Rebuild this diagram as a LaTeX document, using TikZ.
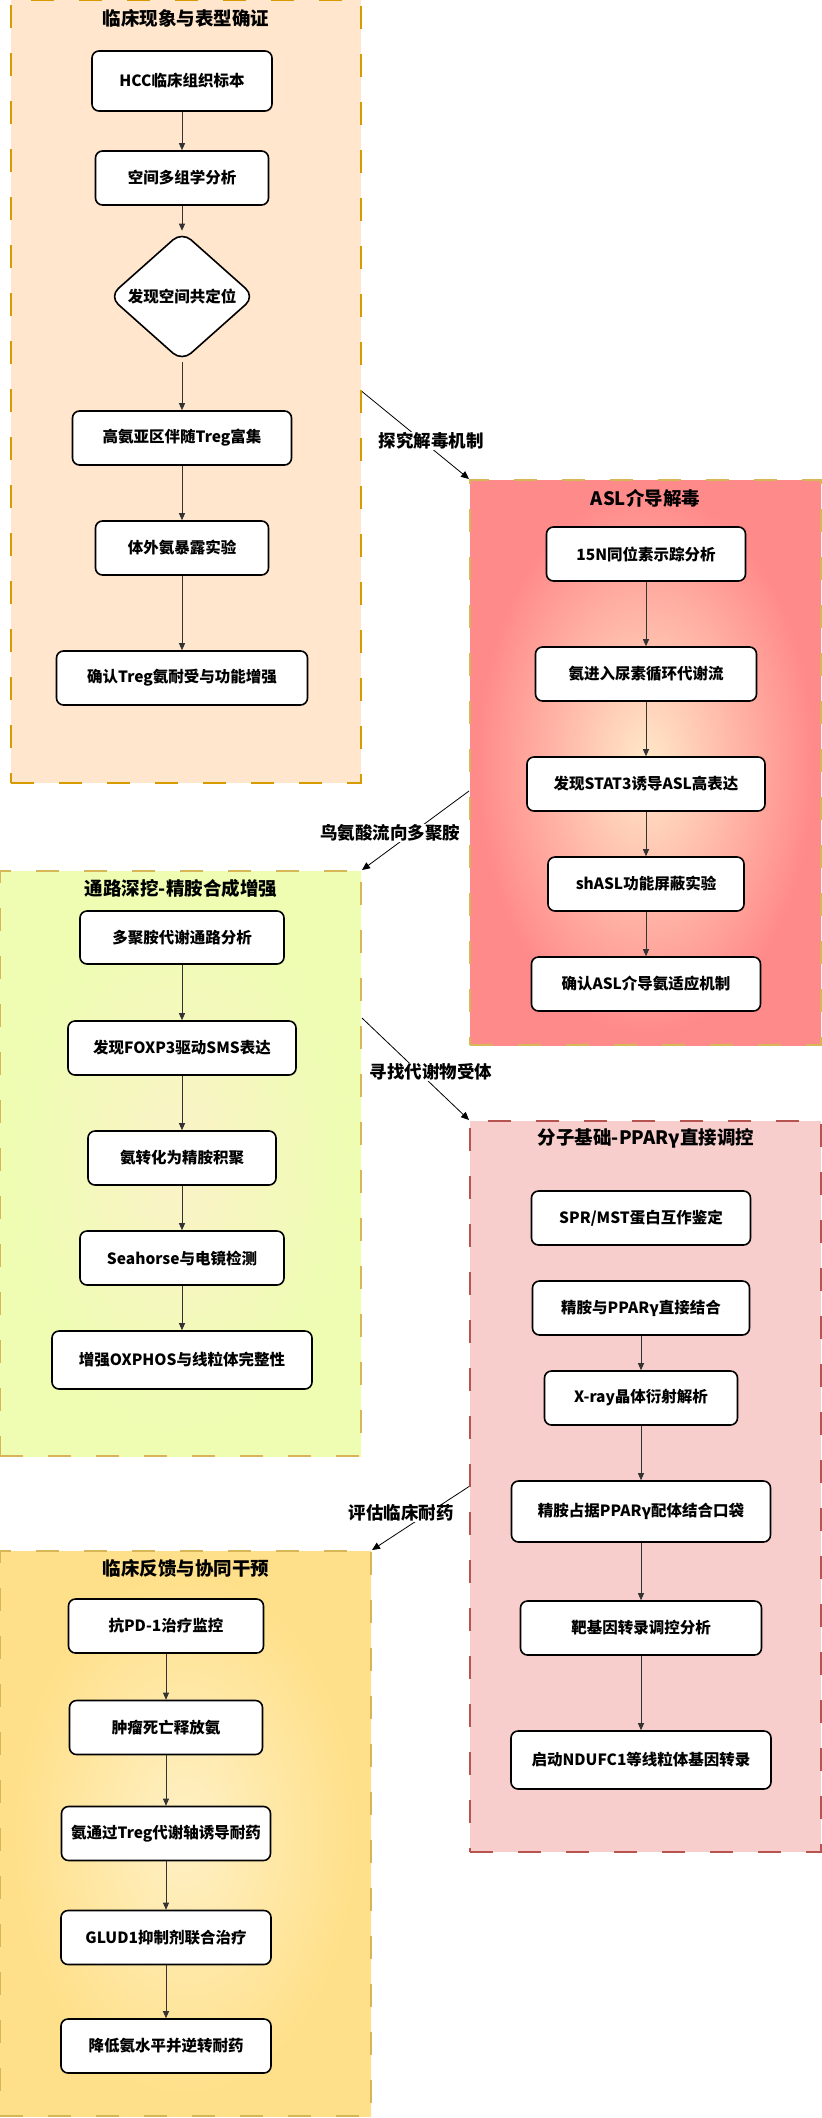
\documentclass[tikz,border=0pt]{standalone}
\usepackage{fontspec}
\setmainfont{Noto Sans CJK SC}
\usetikzlibrary{arrows.meta,shapes.geometric}
\definecolor{peachfill}{HTML}{FFE6CC}
\definecolor{peachline}{HTML}{D79B00}
\definecolor{goldline}{HTML}{D6B656}
\definecolor{rosefill}{HTML}{F8CECC}
\definecolor{roseline}{HTML}{B85450}
\definecolor{aslin}{HTML}{FFE8C8}
\definecolor{aslout}{HTML}{FF8A8A}
\definecolor{limein}{HTML}{FBF2C8}
\definecolor{limeout}{HTML}{EEFDB2}
\definecolor{goldin}{HTML}{FFF1C6}
\definecolor{goldout}{HTML}{FFE08A}
\pgfdeclareradialshading{aslglow}{\pgfpoint{0bp}{0bp}}{color(0bp)=(aslin);color(24bp)=(aslout);color(50bp)=(aslout)}
\pgfdeclareradialshading{limeglow}{\pgfpoint{0bp}{0bp}}{color(0bp)=(limein);color(23bp)=(limeout);color(50bp)=(limeout)}
\pgfdeclareradialshading{goldglow}{\pgfpoint{0bp}{0bp}}{color(0bp)=(goldin);color(23bp)=(goldout);color(50bp)=(goldout)}

\begin{document}
\begin{tikzpicture}[x=1pt,y=-1pt,
  every node/.style={text=black},
  frame/.style={rectangle,inner sep=0pt,line width=2pt,dash pattern=on 23pt off 25pt},
  head/.style={font=\fontsize{18.5}{22}\selectfont\bfseries},
  box/.style={draw,fill=white,rounded corners=7pt,line width=1.6pt,inner sep=2pt,
    minimum height=54pt,font=\fontsize{15.5}{18}\selectfont\bfseries},
  elabel/.style={fill=white,inner sep=1pt,font=\fontsize{17.5}{21}\selectfont\bfseries},
  flow/.style={draw=black!80,line width=0.9pt,-{Triangle[length=7pt,width=6pt]}},
  link/.style={draw=black,line width=0.8pt,-{Triangle[length=8pt,width=7pt]}}]
\useasboundingbox (0,0) rectangle (822,2118);

\node[frame,draw=peachline,fill=peachfill,minimum width=350,minimum height=783] (clin) at (186,391.5) {};
\node[frame,draw=goldline,shading=aslglow,minimum width=351,minimum height=565] (asl) at (645.5,762.5) {};
\node[frame,draw=goldline,shading=limeglow,minimum width=361,minimum height=585] (path) at (180.5,1163.5) {};
\node[frame,draw=roseline,fill=rosefill,minimum width=351,minimum height=731] (ppar) at (645.5,1486.5) {};
\node[frame,draw=goldline,shading=goldglow,minimum width=371,minimum height=565] (feed) at (185.5,1833.5) {};

\node[head] (clin title) at (186,18) {临床现象与表型确证};
\node[head] (asl title) at (645.5,498) {ASL介导解毒};
\node[head] (path title) at (181,888) {通路深挖-精胺合成增强};
\node[head] (ppar title) at (646,1138) {分子基础-PPARγ直接调控};
\node[head] (feed title) at (186,1568) {临床反馈与协同干预};

\foreach \n/\y/\w/\h/\t in {1/81/180/60/HCC临床组织标本, 2/178/173/54/空间多组学分析,
  4/438/219/54/高氨亚区伴随Treg富集, 5/548/173/54/体外氨暴露实验, 6/678/251/54/确认Treg氨耐受与功能增强}
  \node[box,minimum width=\w,minimum height=\h] (C\n) at (182,\y) {\t};
\node[box,diamond,rounded corners=12pt,inner sep=0pt,minimum width=146,minimum height=130] (C3) at (182,296.5) {发现空间共定位};

\foreach \n/\y/\w/\t in {1/554/199/15N同位素示踪分析, 2/674/221/氨进入尿素循环代谢流,
  3/784/238/发现STAT3诱导ASL高表达, 4/884/196/shASL功能屏蔽实验, 5/984/229/确认ASL介导氨适应机制}
  \node[box,minimum width=\w] (A\n) at (646,\y) {\t};

\foreach \n/\y/\w/\h/\t in {1/937.5/204/53/多聚胺代谢通路分析, 2/1048/228/54/发现FOXP3驱动SMS表达,
  3/1158/188/54/氨转化为精胺积聚, 4/1258/204/54/Seahorse与电镜检测, 5/1360/260/58/增强OXPHOS与线粒体完整性}
  \node[box,minimum width=\w,minimum height=\h] (P\n) at (182,\y) {\t};

\foreach \n/\y/\w/\h/\t in {1/1218/219/54/{SPR/MST蛋白互作鉴定}, 2/1308/217/54/精胺与PPARγ直接结合,
  3/1398/193/54/X-ray晶体衍射解析, 4/1511.5/259/61/精胺占据PPARγ配体结合口袋,
  5/1628/241/54/靶基因转录调控分析, 6/1760/260/58/启动NDUFC1等线粒体基因转录}
  \node[box,minimum width=\w,minimum height=\h] (R\n) at (641,\y) {\t};

\foreach \n/\y/\w/\t in {1/1626/195/抗PD-1治疗监控, 2/1727.5/193/肿瘤死亡释放氨,
  3/1833.5/209/氨通过Treg代谢轴诱导耐药, 4/1937.5/210/GLUD1抑制剂联合治疗, 5/2046/210/降低氨水平并逆转耐药}
  \node[box,minimum width=\w] (F\n) at (166,\y) {\t};

\foreach \i/\j in {1/2,2/3,3/4,4/5,5/6} \draw[flow] (C\i) -- (C\j);
\foreach \i/\j in {1/2,2/3,3/4,4/5} \draw[flow] (A\i) -- (A\j);
\foreach \i/\j in {1/2,2/3,3/4,4/5} \draw[flow] (P\i) -- (P\j);
\foreach \i/\j in {2/3,3/4,4/5,5/6} \draw[flow] (R\i) -- (R\j);
\foreach \i/\j in {1/2,2/3,3/4,4/5} \draw[flow] (F\i) -- (F\j);

\draw[link] (clin.east) -- (asl.north west);
\draw[link] ([yshift=-28.5]asl.west) -- (path.north east);
\draw[link] ([yshift=145.5]path.east) -- (ppar.north west);
\draw[link] (ppar.west) -- (feed.north east);

\node[elabel] (detox) at (431,441) {探究解毒机制};
\node[elabel] (orn) at (390,833) {鸟氨酸流向多聚胺};
\node[elabel] (recep) at (431,1072) {寻找代谢物受体};
\node[elabel] (resist) at (401,1513) {评估临床耐药};
\end{tikzpicture}
\end{document}
